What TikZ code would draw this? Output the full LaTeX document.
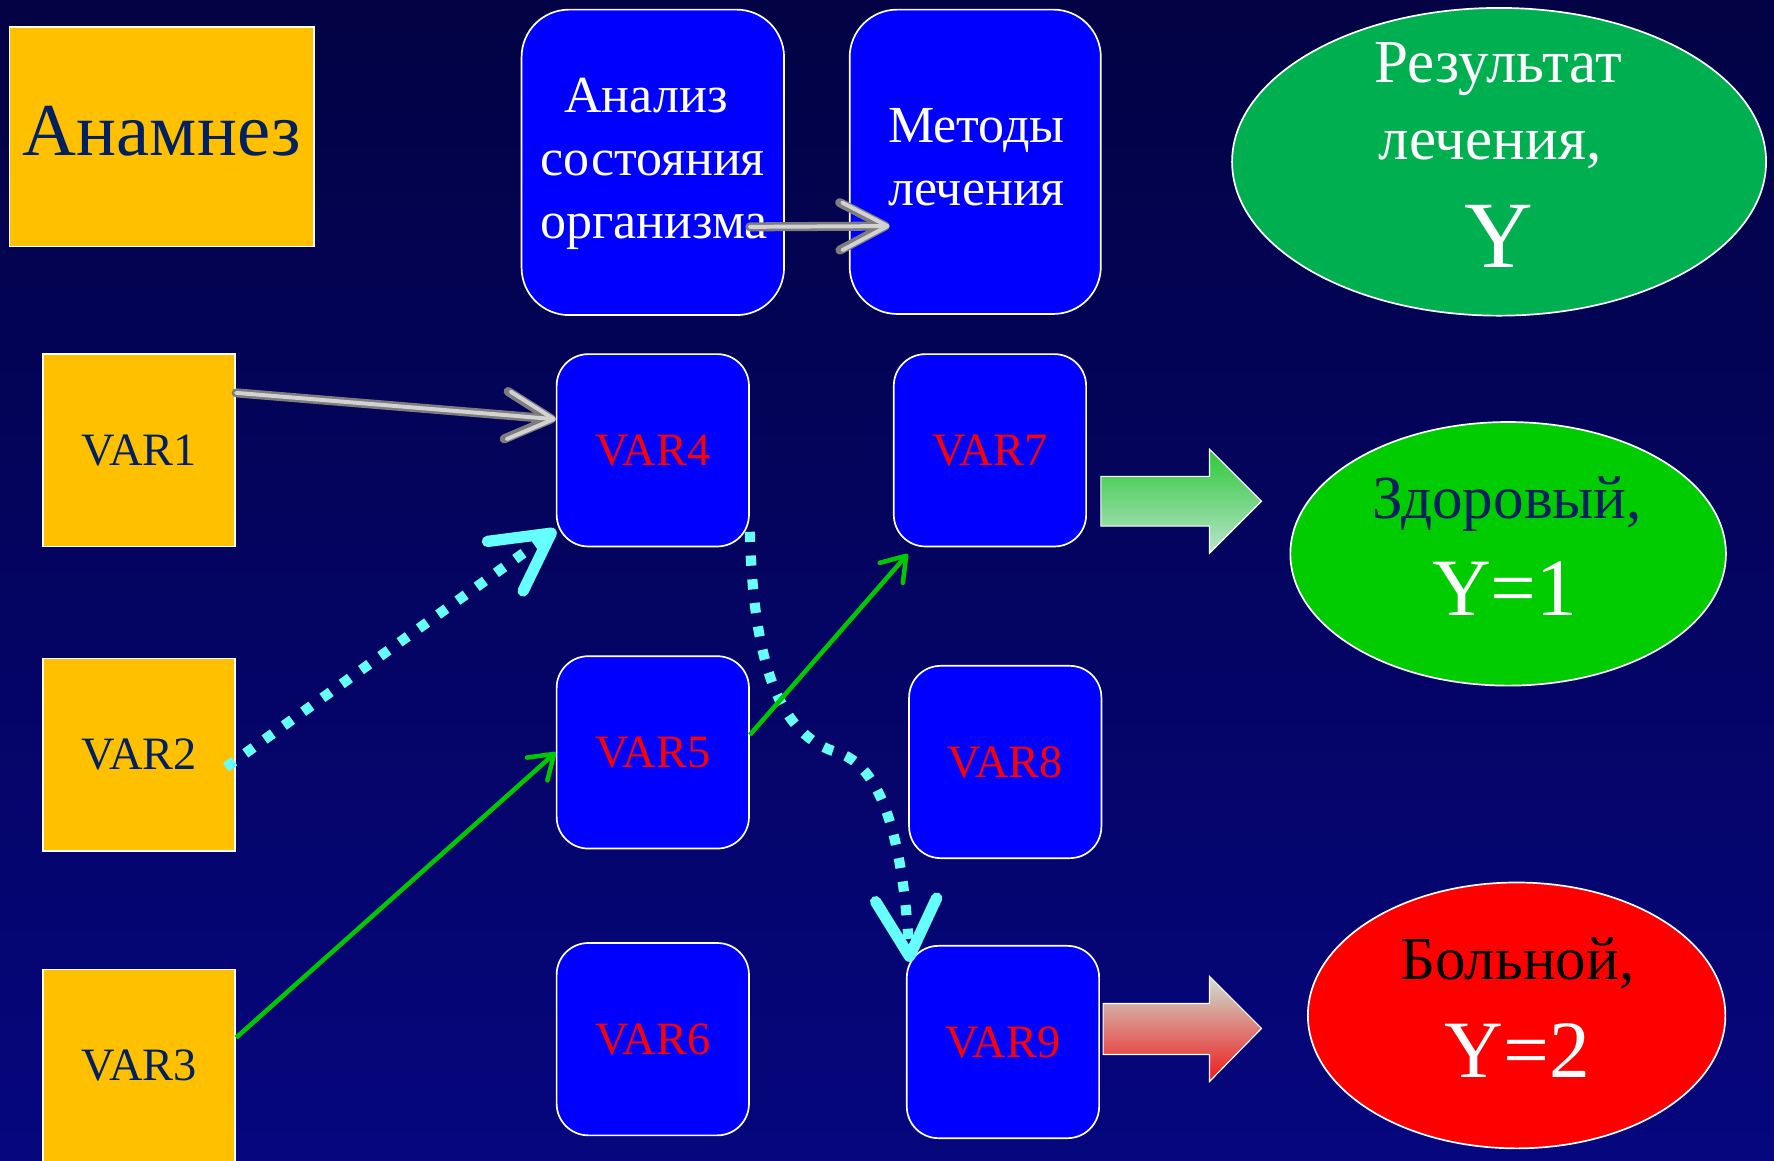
\documentclass[tikz,border=0pt]{standalone}
\usepackage{fontspec}
\setmainfont{Liberation Serif}
\usetikzlibrary{arrows.meta,calc,shapes.geometric}
\definecolor{bgtop}{RGB}{2,2,68}
\definecolor{bgbot}{RGB}{6,6,126}
\definecolor{orng}{RGB}{255,192,0}
\definecolor{navyt}{RGB}{0,32,96}
\definecolor{cyanx}{RGB}{102,255,255}
\definecolor{grnline}{RGB}{0,200,0}
\definecolor{resgreen}{RGB}{0,176,80}
\definecolor{okgreen}{RGB}{0,204,0}
\definecolor{tubegray}{RGB}{125,125,125}
\definecolor{tubelight}{RGB}{210,210,210}
\begin{document}
\begin{tikzpicture}[x=1pt,y=1pt,
  orangebox/.style={draw=white, line width=1.5pt, fill=orng, minimum width=170pt, minimum height=170pt, inner sep=0pt, text=navyt, font=\fontsize{41}{46}\selectfont},
  varbox/.style={draw=white, line width=1.5pt, fill=blue, rounded corners=28pt, minimum width=170pt, minimum height=170pt, inner sep=0pt, text=red, font=\fontsize{41}{46}\selectfont},
  bigbox/.style={draw=white, line width=1.5pt, fill=blue, rounded corners=42pt, inner sep=0pt},
  plainbox/.style={draw=white, line width=1.5pt, fill=orng, inner sep=0pt},
  oval/.style={ellipse, draw=white, line width=1.5pt, inner sep=0pt},
  wtext/.style={anchor=base, text=white, inner sep=0pt, font=\fontsize{46}{50}\selectfont},
  ovtext/.style={anchor=base, inner sep=0pt, font=\fontsize{54}{60}\selectfont},
  ytext/.style={anchor=base, text=white, inner sep=0pt, font=\fontsize{72}{76}\selectfont},
  tube/.style={draw=tubegray, line width=8pt, line cap=round,
    -{Straight Barb[round, length=40pt, width=42pt]},
    postaction={draw=tubelight, line width=3.5pt, -{Straight Barb[round, length=40pt, width=42pt]}}},
  cyandot/.style={draw=cyanx, line width=9pt, dash pattern=on 9pt off 12pt,
    -{Straight Barb[round, length=50pt, width=54pt, line width=10pt]}},
  greenarr/.style={draw=grnline, line width=4pt, -{Straight Barb[round, length=20pt, width=27pt]}},
  blockarrow/.style={draw=white, line width=1pt}
]
\useasboundingbox (0,0) rectangle (1568,-1026);
\shade[top color=bgtop, bottom color=bgbot] (0,0) rectangle (1568,-1026);

% top row
\node[plainbox, minimum width=269pt, minimum height=194pt] (anam) at (143,-121) {};
\node[anchor=base, inner sep=0pt, text=navyt, font=\fontsize{66}{70}\selectfont] (anamt) at (143,-137) {Анамнез};

\node[bigbox, minimum width=232pt, minimum height=270pt] (an) at (577,-143.5) {};
\node[wtext] (an1) at (571,-99) {Анализ};
\node[wtext] (an2) at (577,-155) {состояния};
\node[wtext] (an3) at (578,-211) {организма};

\node[bigbox, minimum width=222pt, minimum height=269pt] (me) at (862,-143) {};
\node[wtext] (me1) at (863,-126) {Методы};
\node[wtext] (me2) at (863,-182) {лечения};

\node[oval, fill=resgreen, minimum width=472pt, minimum height=272pt] (res) at (1325,-143) {};
\node[ovtext, text=white] (res1) at (1324,-73) {Результат};
\node[ovtext, text=white] (res2) at (1317,-141) {лечения,};
\node[anchor=base, text=white, inner sep=0pt, font=\fontsize{84}{88}\selectfont] (res3) at (1325,-236) {Y};

% left column
\node[orangebox] (v1) at (123,-398) {VAR1};
\node[orangebox] (v2) at (123,-667) {VAR2};
\node[orangebox] (v3) at (123,-942) {VAR3};

% middle columns
\node[varbox] (v4) at (577,-398) {VAR4};
\node[varbox] (v5) at (577,-665) {VAR5};
\node[varbox] (v6) at (577,-918.5) {VAR6};
\node[varbox] (v7) at (875,-398) {VAR7};
\node[varbox] (v8) at (888.5,-673.5) {VAR8};
\node[varbox] (v9) at (886.5,-921) {VAR9};

% outcome ellipses
\node[oval, fill=okgreen, minimum width=385pt, minimum height=233pt] (ok) at (1333,-489.5) {};
\node[ovtext, text=navyt] (ok1) at (1332,-458) {Здоровый,};
\node[ytext] (ok2) at (1330,-544) {Y=1};

\node[oval, fill=red, minimum width=369pt, minimum height=235pt] (bad) at (1340.5,-897.5) {};
\node[ovtext, text=black] (bad1) at (1341,-866) {Больной,};
\node[ytext] (bad2) at (1341,-952) {Y=2};

% block arrows
\shadedraw[blockarrow, top color={rgb,255:red,45;green,200;blue,55}, bottom color={rgb,255:red,185;green,228;blue,205}]
  (973,-421) -- (1069,-421) -- (1069,-397) -- (1115,-443) -- (1069,-489) -- (1069,-465) -- (973,-465) -- cycle;
\shadedraw[blockarrow, top color={rgb,255:red,205;green,225;blue,212}, bottom color={rgb,255:red,238;green,25;blue,25}]
  (975,-887) -- (1069,-887) -- (1069,-863) -- (1115,-909) -- (1069,-956) -- (1069,-932) -- (975,-932) -- cycle;

% connectors
\draw[tube] ($(an.north east)!0.71!(an.south east)+(-31,0)$) -- ($(me.north west)!0.71!(me.south west)+(36,0)$);
\draw[tube] ($(v1.north east)!0.204!(v1.south east)$) -- ($(v4.north west)!0.34!(v4.south west)$);

\draw[cyandot] ($(v2.north east)!0.565!(v2.south east)+(-9,0)$) -- ($(v4.north west)!0.91!(v4.south west)$);
\draw[cyandot] ($(v4.north east)!0.92!(v4.south east)$) .. controls (666,-590) and (690,-650) .. (740,-665)
   .. controls (790,-680) and (800,-780) .. ($(v9.north west)!0.02!(v9.north east)+(0,-15)$);

\draw[greenarr] ($(v3.north east)!0.355!(v3.south east)$) -- (v5.west);
\draw[greenarr] ($(v5.north east)!0.41!(v5.south east)$) -- ($(v7.south west)!0.076!(v7.south east)+(0,-6)$);
\end{tikzpicture}
\end{document}
